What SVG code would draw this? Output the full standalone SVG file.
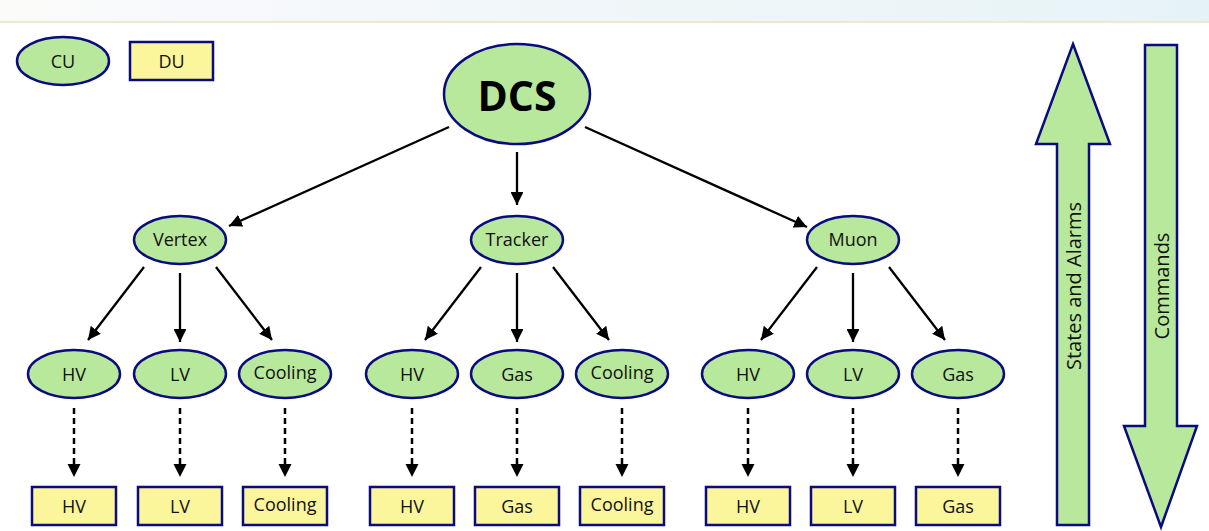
<svg xmlns="http://www.w3.org/2000/svg" width="1209" height="531" viewBox="0 0 1209 531">
  <defs>
    <linearGradient id="band" x1="0" y1="0" x2="1" y2="0">
      <stop offset="0" stop-color="#fbfbf9"/>
      <stop offset="0.15" stop-color="#f8f9fc"/>
      <stop offset="0.6" stop-color="#eef6f8"/>
      <stop offset="1" stop-color="#e6f3f6"/>
    </linearGradient>
    <marker id="head" viewBox="0 0 10 10" refX="10" refY="5" markerWidth="5.6" markerHeight="5.6" markerUnits="strokeWidth" orient="auto">
      <path d="M0,0 L10,5 L0,10 z" fill="#000"/>
    </marker>
  </defs>
  <style>
    .cu { fill: #b8e89b; stroke: #0b0b80; stroke-width: 2.5; }
    .du { fill: #fbf59c; stroke: #0b0b80; stroke-width: 2.5; }
    .big { fill: #b8e89b; stroke: #0b0b80; stroke-width: 2.5; stroke-linejoin: miter; }
    .lbl { font-family: "Open Sans", "Liberation Sans", sans-serif; font-size: 18px; fill: #111; text-anchor: middle; dominant-baseline: central; }
    .side { font-size: 20px; }
    .title { font-family: "Open Sans", "Liberation Sans", sans-serif; font-size: 41px; font-weight: bold; fill: #000; text-anchor: middle; dominant-baseline: central; }
    .ctl { stroke: #000; stroke-width: 2.3; fill: none; marker-end: url(#head); }
    .dev { stroke: #000; stroke-width: 2.5; fill: none; stroke-dasharray: 6 4; }
    .tip { fill: #000; }
  </style>

  <rect width="1209" height="531" fill="#fff"/>
  <rect x="0" y="0" width="1209" height="21" fill="url(#band)"/>
  <rect x="0" y="21" width="1209" height="2" fill="#ece8d3"/>

  <!-- legend -->
  <g id="legend-cu"><ellipse class="cu" cx="63" cy="61" rx="46" ry="24"/><text class="lbl" x="63" y="61">CU</text></g>
  <g id="legend-du"><rect class="du" x="130" y="42" width="83" height="38"/><text class="lbl" x="171.5" y="61">DU</text></g>

  <!-- connectors -->
  <g id="connectors">
    <line class="ctl" x1="449" y1="127" x2="229" y2="226"/>
    <line class="ctl" x1="517" y1="152" x2="517" y2="205"/>
    <line class="ctl" x1="585" y1="127" x2="807" y2="227"/>

    <line class="ctl" x1="144" y1="267" x2="88" y2="340"/>
    <line class="ctl" x1="180" y1="273" x2="180" y2="342"/>
    <line class="ctl" x1="216" y1="267" x2="272" y2="340"/>

    <line class="ctl" x1="481" y1="267" x2="425" y2="340"/>
    <line class="ctl" x1="517" y1="273" x2="517" y2="342"/>
    <line class="ctl" x1="553" y1="267" x2="609" y2="340"/>

    <line class="ctl" x1="817" y1="267" x2="761" y2="340"/>
    <line class="ctl" x1="853" y1="273" x2="853" y2="342"/>
    <line class="ctl" x1="889" y1="267" x2="945" y2="340"/>

    <g id="device-links">
      <line class="dev" x1="74" y1="408" x2="74" y2="465"/><path class="tip" d="M67.5,464 L80.5,464 L74,477 z"/>
      <line class="dev" x1="180" y1="408" x2="180" y2="465"/><path class="tip" d="M173.5,464 L186.5,464 L180,477 z"/>
      <line class="dev" x1="285" y1="408" x2="285" y2="465"/><path class="tip" d="M278.5,464 L291.5,464 L285,477 z"/>
      <line class="dev" x1="412" y1="408" x2="412" y2="465"/><path class="tip" d="M405.5,464 L418.5,464 L412,477 z"/>
      <line class="dev" x1="517" y1="408" x2="517" y2="465"/><path class="tip" d="M510.5,464 L523.5,464 L517,477 z"/>
      <line class="dev" x1="622" y1="408" x2="622" y2="465"/><path class="tip" d="M615.5,464 L628.5,464 L622,477 z"/>
      <line class="dev" x1="748" y1="408" x2="748" y2="465"/><path class="tip" d="M741.5,464 L754.5,464 L748,477 z"/>
      <line class="dev" x1="853" y1="408" x2="853" y2="465"/><path class="tip" d="M846.5,464 L859.5,464 L853,477 z"/>
      <line class="dev" x1="958" y1="408" x2="958" y2="465"/><path class="tip" d="M951.5,464 L964.5,464 L958,477 z"/>
    </g>
  </g>

  <!-- top node -->
  <g id="dcs"><ellipse class="cu" cx="517" cy="94" rx="73" ry="50"/><text class="title" x="517" y="95">DCS</text></g>

  <!-- sub-detector control units -->
  <g id="vertex"><ellipse class="cu" cx="180" cy="240" rx="46" ry="24"/><text class="lbl" x="180" y="239">Vertex</text></g>
  <g id="tracker"><ellipse class="cu" cx="517" cy="240" rx="46" ry="24"/><text class="lbl" x="517" y="239">Tracker</text></g>
  <g id="muon"><ellipse class="cu" cx="853" cy="240" rx="46" ry="24"/><text class="lbl" x="853" y="239">Muon</text></g>

  <!-- system control units -->
  <g id="vertex-hv"><ellipse class="cu" cx="74" cy="374" rx="46" ry="24"/><text class="lbl" x="74" y="374">HV</text></g>
  <g id="vertex-lv"><ellipse class="cu" cx="180" cy="374" rx="46" ry="24"/><text class="lbl" x="180" y="374">LV</text></g>
  <g id="vertex-cooling"><ellipse class="cu" cx="285" cy="374" rx="46" ry="24"/><text class="lbl" x="285" y="372">Cooling</text></g>
  <g id="tracker-hv"><ellipse class="cu" cx="412" cy="374" rx="46" ry="24"/><text class="lbl" x="412" y="374">HV</text></g>
  <g id="tracker-gas"><ellipse class="cu" cx="517" cy="374" rx="46" ry="24"/><text class="lbl" x="517" y="374">Gas</text></g>
  <g id="tracker-cooling"><ellipse class="cu" cx="622" cy="374" rx="46" ry="24"/><text class="lbl" x="622" y="372">Cooling</text></g>
  <g id="muon-hv"><ellipse class="cu" cx="748" cy="374" rx="46" ry="24"/><text class="lbl" x="748" y="374">HV</text></g>
  <g id="muon-lv"><ellipse class="cu" cx="853" cy="374" rx="46" ry="24"/><text class="lbl" x="853" y="374">LV</text></g>
  <g id="muon-gas"><ellipse class="cu" cx="958" cy="374" rx="46" ry="24"/><text class="lbl" x="958" y="374">Gas</text></g>

  <!-- device units -->
  <g id="dev-vertex-hv"><rect class="du" x="32" y="487" width="84" height="38"/><text class="lbl" x="74" y="506">HV</text></g>
  <g id="dev-vertex-lv"><rect class="du" x="138" y="487" width="84" height="38"/><text class="lbl" x="180" y="506">LV</text></g>
  <g id="dev-vertex-cooling"><rect class="du" x="243" y="487" width="84" height="38"/><text class="lbl" x="285" y="504">Cooling</text></g>
  <g id="dev-tracker-hv"><rect class="du" x="370" y="487" width="84" height="38"/><text class="lbl" x="412" y="506">HV</text></g>
  <g id="dev-tracker-gas"><rect class="du" x="475" y="487" width="84" height="38"/><text class="lbl" x="517" y="506">Gas</text></g>
  <g id="dev-tracker-cooling"><rect class="du" x="580" y="487" width="84" height="38"/><text class="lbl" x="622" y="504">Cooling</text></g>
  <g id="dev-muon-hv"><rect class="du" x="706" y="487" width="84" height="38"/><text class="lbl" x="748" y="506">HV</text></g>
  <g id="dev-muon-lv"><rect class="du" x="811" y="487" width="84" height="38"/><text class="lbl" x="853" y="506">LV</text></g>
  <g id="dev-muon-gas"><rect class="du" x="916" y="487" width="84" height="38"/><text class="lbl" x="958" y="506">Gas</text></g>

  <!-- flow direction arrows -->
  <g id="states-arrow">
    <path class="big" d="M1073,44 L1110,144 L1089,144 L1089,525 L1057,525 L1057,144 L1036,144 z"/>
    <text class="lbl side" transform="translate(1073,286) rotate(-90)">States and Alarms</text>
  </g>
  <g id="commands-arrow">
    <path class="big" d="M1145,45 L1177,45 L1177,426 L1197,426 L1161,527 L1124,426 L1145,426 z"/>
    <text class="lbl side" transform="translate(1161,286) rotate(-90)">Commands</text>
  </g>
</svg>
